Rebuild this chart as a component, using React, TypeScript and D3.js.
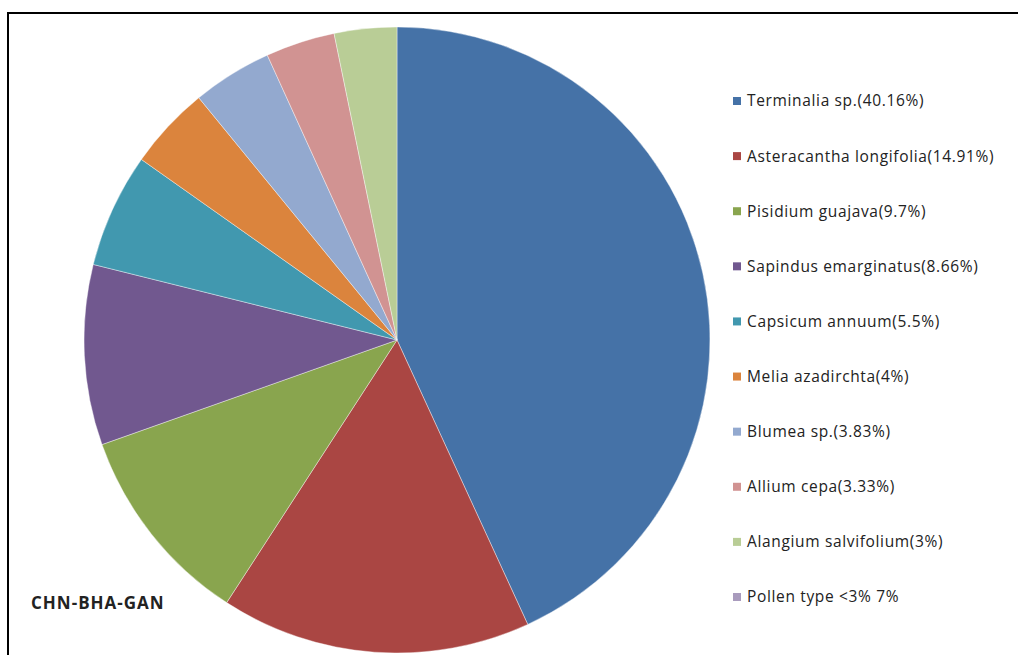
import React from "react";
import * as d3 from "d3";

const categories = [
  "Terminalia sp.(40.16%)",
  "Asteracantha longifolia(14.91%)",
  "Pisidium guajava(9.7%)",
  "Sapindus emarginatus(8.66%)",
  "Capsicum annuum(5.5%)",
  "Melia azadirchta(4%)",
  "Blumea sp.(3.83%)",
  "Allium cepa(3.33%)",
  "Alangium salvifolium(3%)",
  "Pollen type <3% 7%",
];
// slice values as drawn (the "Pollen type" slice is not drawn in the pie)
const values = [40.16, 14.91, 9.7, 8.66, 5.5, 4, 3.83, 3.33, 3, 0];
const colors = [
  "#4572A7", "#AA4643", "#89A54E", "#71588F", "#4198AF",
  "#DB843D", "#93A9CF", "#D19392", "#B9CD96", "#A99BBD",
];
const title = "CHN-BHA-GAN";

export default function App() {
  const W = 1019, H = 655;
  const cx = 397, cy = 340, r = 313;
  const pie = d3.pie<number>().sort(null).value((d) => d);
  const arcs = pie(values);
  const arc = d3.arc<d3.PieArcDatum<number>>().innerRadius(0).outerRadius(r);
  const legendY = d3.scalePoint<number>().domain(d3.range(categories.length)).range([101, 597]);
  const font = "'Open Sans', 'Liberation Sans', sans-serif";
  return (
    <svg width={W} height={H} style={{ position: "absolute", left: 0, top: 0, background: "#fff" }}>
      <rect x={0} y={0} width={W} height={H} fill="#fff" />
      <g transform={`translate(${cx},${cy})`}>
        {arcs.map((a, i) =>
          a.value > 0 ? (
            <path key={i} d={arc(a) || ""} fill={colors[i]} stroke="#fff" strokeWidth={0.4} />
          ) : null
        )}
      </g>
      <g fontFamily={font} fontSize={15.5} fill="#222" letterSpacing={0.65}>
        {categories.map((c, i) => {
          const y = legendY(i) as number;
          return (
            <g key={i}>
              <rect x={733} y={y - 4} width={8} height={8} fill={colors[i]} />
              <text x={747} y={y} dy="0.35em">{c}</text>
            </g>
          );
        })}
      </g>
      <text x={31} y={609} fontFamily={font} fontSize={17} fontWeight="bold" fill="#222" letterSpacing={1}>{title}</text>
      <line x1={7} y1={13} x2={1018} y2={13} stroke="#000" strokeWidth={2} />
      <line x1={8} y1={12} x2={8} y2={H} stroke="#000" strokeWidth={2} />
    </svg>
  );
}
